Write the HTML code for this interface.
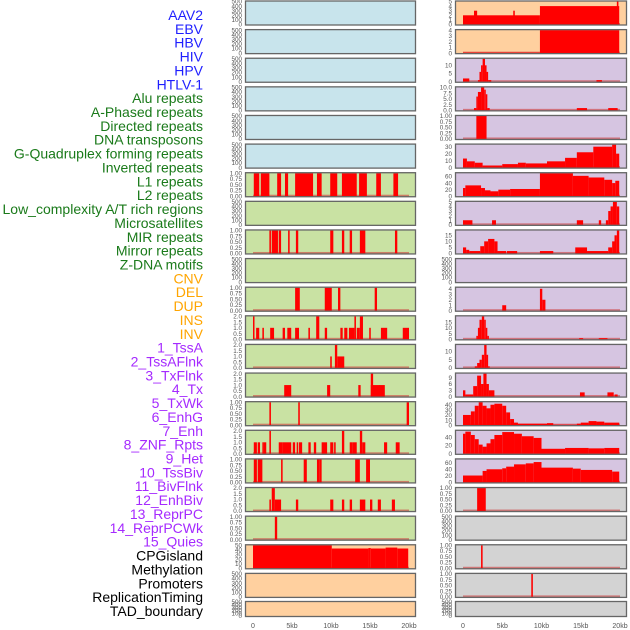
<!DOCTYPE html>
<html><head><meta charset="utf-8">
<style>
html,body{margin:0;padding:0;background:#fff;width:630px;height:630px;overflow:hidden}
svg{display:block;font-family:"Liberation Sans",sans-serif}
</style></head>
<body>
<svg id="chart" width="630" height="630" viewBox="0 0 630 630"></svg>
<script>
const rowLabels=["AAV2","EBV","HBV","HIV","HPV","HTLV-1","Alu repeats","A-Phased repeats","Directed repeats","DNA transposons","G-Quadruplex forming repeats","Inverted repeats","L1 repeats","L2 repeats","Low_complexity A/T rich regions","Microsatellites","MIR repeats","Mirror repeats","Z-DNA motifs","CNV","DEL","DUP","INS","INV","1_TssA","2_TssAFlnk","3_TxFlnk","4_Tx","5_TxWk","6_EnhG","7_Enh","8_ZNF_Rpts","9_Het","10_TssBiv","11_BivFlnk","12_EnhBiv","13_ReprPC","14_ReprPCWk","15_Quies","CPGisland","Methylation","Promoters","ReplicationTiming","TAD_boundary"];
const labelGroups=[6,13,5,15,5];
const groupColors=["#1f1fff","#1a7a1a","#ffa500","#a52aff","#000000"];
const xTicks=[0,5,10,15,20];
const xTickLabels=["0","5kb","10kb","15kb","20kb"];
const leftBg=["#c8e4ec","#c8e4ec","#c8e4ec","#c8e4ec","#c8e4ec","#c8e4ec","#c9e2a3","#c9e2a3","#c9e2a3","#c9e2a3","#c9e2a3","#c9e2a3","#c9e2a3","#c9e2a3","#c9e2a3","#c9e2a3","#c9e2a3","#c9e2a3","#c9e2a3","#ffd09f","#ffd09f","#ffd09f"];
const rightBg=["#ffd09f","#ffd09f","#d6c5e1","#d6c5e1","#d6c5e1","#d6c5e1","#d6c5e1","#d6c5e1","#d6c5e1","#d6c5e1","#d6c5e1","#d6c5e1","#d6c5e1","#d6c5e1","#d6c5e1","#d6c5e1","#d6c5e1","#d3d3d3","#d3d3d3","#d3d3d3","#d3d3d3","#d3d3d3"];
const leftMax=[0,0,0,0,0,0,1,0,1,0,1,2,2,2,1,2,1,2,1,50,0,0];
const rightMax=[5,4,14,10,1,33,70,5,19,0,4.2,20,14,11,45,55,70,1,0,1,1,0];
const leftTicks=[[],[],[],[],[],[],["0.00","0.25","0.50","0.75","1.00"],[],["0.00","0.25","0.50","0.75","1.00"],[],["0.00","0.25","0.50","0.75","1.00"],["0.0","0.5","1.0","1.5","2.0"],["0.0","0.5","1.0","1.5","2.0"],["0.0","0.5","1.0","1.5","2.0"],["0.00","0.25","0.50","0.75","1.00"],["0.0","0.5","1.0","1.5","2.0"],["0.00","0.25","0.50","0.75","1.00"],["0.0","0.5","1.0","1.5","2.0"],["0.00","0.25","0.50","0.75","1.00"],["0","10","20","30","40","50"],[],[]];
const rightTicks=[["0","1","2","3","4","5"],["0","1","2","3","4"],["0","5","10"],["0.0","2.5","5.0","7.5","10.0"],["0.00","0.25","0.50","0.75","1.00"],["0","10","20","30"],["0","20","40","60"],["0","1","2","3","4","5"],["0","5","10","15"],[],["0","1","2","3","4"],["0","5","10","15"],["0","5","10"],["0","3","6","9"],["0","10","20","30","40"],["0","20","40"],["0","20","40","60"],["0.00","0.25","0.50","0.75","1.00"],[],["0.00","0.25","0.50","0.75","1.00"],["0.00","0.25","0.50","0.75","1.00"],[]];
const leftSegs=[[],[],[],[],[],[],
[[0.1,0.8,1],[1.0,2.1,1],[3.1,3.6,1],[4.1,4.5,1],[5.4,7.7,1],[8.2,8.8,1],[9.9,10.8,1],[11.4,13.3,1],[13.6,14.6,1],[15.8,16.4,1],[18,18.6,1]],
[],
[[2.1,2.3,1],[2.4,3.2,1],[3.3,3.6,1],[4.5,4.7,1],[5.5,5.8,1],[9.9,10.3,1],[11.4,11.7,1],[12.4,12.7,1],[13.7,14.4,1],[18.2,18.5,1]],
[],
[[5.4,6.0,1],[9.2,10.1,1],[10.9,11.2,1],[15.6,15.9,1]],
[[0,0.15,2],[0.4,0.8,1],[1.2,1.4,1],[2.2,2.7,1],[3.8,4.1,1],[4.4,4.9,1],[5.4,5.9,1],[7.1,7.3,1],[8.1,8.5,2],[9.2,9.5,1],[11.2,11.5,1],[11.7,12.1,1],[12.3,13.0,1],[13.0,13.2,2],[13.3,13.7,1],[13.7,14.1,2],[14.9,15.1,1],[16.4,17.2,1],[19.2,20,1]],
[[9.9,10.1,1],[10.5,10.8,2],[10.8,11.7,1]],
[[4.0,4.9,1],[9.5,9.9,1],[13.5,13.8,1],[15.1,16.3,1],[15.1,15.4,2],[16.2,16.9,1]],
[[2.1,2.3,1],[5.8,6.0,1],[19.7,20,1]],
[[0.1,0.5,1],[0.6,0.9,1],[1.2,1.4,1],[1.4,1.7,1],[2.1,2.3,2],[3.3,3.8,1],[3.8,4.9,1],[5.1,5.4,1],[5.6,5.8,1],[5.9,6.3,1],[7.1,7.4,1],[7.8,8.1,1],[8.8,9.5,1],[9.9,10.3,1],[10.4,10.6,1],[11.4,11.7,2],[12.4,12.8,1],[12.8,13.3,1],[13.7,14.0,2],[14.0,14.4,1],[16.8,17.2,1],[18.3,18.8,1]],
[[0.1,0.5,1],[0.6,1.2,1],[3.6,3.8,1],[6.5,6.9,1],[8.2,8.5,1],[8.5,8.8,1],[13.1,13.7,1],[14.5,15.0,1]],
[[2.1,2.3,1],[2.4,2.8,2],[2.8,3.6,1],[5.5,5.8,1],[9.9,10.3,1],[11.4,11.7,1],[12.4,12.7,1],[13.7,14.4,1],[15,15.3,1],[16,16.4,1],[17.8,18.2,1]],
[[2.8,3.1,1]],
[[0,10.1,50],[10.1,14.8,43],[14.8,15.1,44],[15.1,17,43],[17,18.5,45],[18.5,19.9,43]],
[],[]];
const rightSegs=[
[[0,9.8,2],[1.4,1.8,3],[6.4,6.6,3],[9.8,19.9,4],[19.6,19.8,5]],
[[0,9.8,0.1],[9.8,19.9,4]],
[[0,0.8,2],[1.9,2.1,1],[2.1,2.3,6],[2.3,2.5,10],[2.5,2.8,14],[2.8,3.0,10],[3.0,3.2,6],[3.2,3.6,1],[17,17.7,1]],
[[1.4,1.7,1],[1.7,1.9,6],[1.9,2.3,8],[2.3,2.7,10],[2.7,2.9,9],[2.9,3.1,7],[3.1,3.4,1],[14.5,15.8,1],[18.5,19.7,1]],
[[1.7,3.0,1]],
[[0,0.5,13],[0.5,1.5,9],[1.5,2.5,7],[2.5,5,3],[5,7,5],[7,8,7],[8,10.7,6],[10.7,13,9],[13,14.5,14],[14.5,16.6,22],[16.6,19,30],[19,19.5,33],[19.5,19.9,20]],
[[0,0.3,25],[0.3,2.3,33],[2.3,2.8,25],[2.8,3.5,18],[3.5,4.5,15],[4.5,6,20],[6,9.8,22],[9.8,14,70],[14,16,62],[16,18,57],[18,19,50],[19,19.4,40],[19.4,19.9,47]],
[[0,1.2,1],[3.7,4.2,1],[14.5,15.3,1],[17.3,17.6,1],[18.2,18.5,1],[18.5,18.8,3],[18.8,19.1,4],[19.1,19.6,5],[19.6,19.9,4]],
[[0,0.4,5],[0.4,0.8,3],[0.8,2.2,2],[2.2,2.7,6],[2.7,3.2,10],[3.2,4.0,12],[4.0,4.4,10],[4.4,5.5,2],[5.6,6.9,2],[9.8,11.5,2],[14.3,15.8,5],[15.8,18.5,2],[18.5,19,5],[19,19.3,10],[19.3,19.6,15],[19.6,19.9,19]],
[],
[[5.0,5.5,1],[9.8,10.1,4],[10.1,10.5,2]],
[[1.7,1.9,3],[1.9,2.1,10],[2.1,2.4,17],[2.4,2.7,20],[2.7,2.9,17],[2.9,3.1,10],[3.1,3.3,3],[14.8,15.3,1],[17.3,18.4,1]],
[[1.5,1.8,1],[1.8,2.1,3],[2.1,2.4,5],[2.4,2.7,8],[2.7,3.0,14],[3.0,3.2,8],[3.2,3.4,1]],
[[0,0.3,3],[0.3,1.3,1],[1.3,1.8,5],[1.8,2.3,10],[2.3,2.6,6],[2.6,3.0,11],[3.0,3.3,6],[3.3,4.0,3],[14.9,15.5,2],[18.4,19.2,2],[19.3,19.7,1]],
[[0,1,20],[1,1.5,27],[1.5,2,38],[2,2.5,45],[2.5,3,38],[3,3.5,33],[3.5,4,40],[4,5,42],[5,5.5,38],[5.5,6,25],[6,6.5,12],[6.5,7,5],[7,10.7,3],[10.7,11.5,4],[11.5,14.5,1],[14.5,15,3],[15,16,5],[16,17,8],[17,18,7],[18,19.9,5]],
[[0,0.3,48],[0.3,1,53],[1,1.5,45],[1.5,2,35],[2,2.5,22],[2.5,3,17],[3,3.5,25],[3.5,4,35],[4,5,45],[5,6.5,52],[6.5,7.5,48],[7.5,9,42],[9,10,38],[10,13,12],[13,16,14],[16,18,13],[18,19.9,14]],
[[0,2.5,21],[2.5,3,35],[3,5,40],[5,5.5,43],[5.5,6.5,48],[6.5,8,55],[8,9,58],[9,10,62],[10,14,45],[14,15,42],[15,19,38],[19,19.9,33]],
[[1.8,2.9,1]],
[],
[[2.3,2.5,1]],
[[8.7,8.9,1]],
[]];

const NS="http://www.w3.org/2000/svg";
const svg=document.getElementById('chart');
function mk(tag,attrs,parent){const e=document.createElementNS(NS,tag);for(const k in attrs)e.setAttribute(k,attrs[k]);(parent||svg).appendChild(e);return e;}
const cols=[{x0:245,x1:416,z:253,s:7.8},{x0:455,x1:627,z:463,s:7.85}];
function xScale(c,kb){return c.z+kb*c.s;}
function rowTop(i){return i<21?0.5+i*28.62:601;}
function rowH(i){return i<21?25:16;}

// labels
let li=0;
labelGroups.forEach((n,g)=>{for(let k=0;k<n;k++){const t=mk('text',{x:203,y:15+li*13.86+5,'text-anchor':'end','font-size':14,fill:groupColors[g]});t.textContent=rowLabels[li];


li++;}});

function drawPanel(ci,i,bg,max,ticks,segs){
  const c=cols[ci],top=rowTop(i),h=rowH(i),bot=top+h;
  const g=mk('g',{});
  
  
  mk('rect',{x:c.x0,y:top,width:c.x1-c.x0,height:h,fill:bg},g);
  const y=v=>bot-1-(v/max)*(h-2);
  let tl=ticks;
  if(max===0){tl=["0","100","200","300","400","500"];}
  const n=tl.length;
  tl.forEach((t,k)=>{const yy=max===0?bot-1-k/(n-1)*(h-2):y(parseFloat(t));
    const tx=mk('text',{x:c.x0-3,y:yy+2.2,'text-anchor':'end','font-size':6.3,fill:'#555'},g);tx.textContent=t;
    
    });
  if(max>0){
    mk('rect',{x:xScale(c,0),y:bot-2.5,width:xScale(c,20)-xScale(c,0),height:2,fill:'rgba(205,60,60,0.6)'},g);
    segs.forEach(s=>{const x1=xScale(c,s[0]),x2=xScale(c,s[1]);const yy=y(s[2]);
      const b=mk('rect',{x:x1,y:yy,width:Math.max(1.5,x2-x1),height:bot-1-yy,fill:'#ff0000'},g);
      
      });
  }
  mk('rect',{x:c.x0+0.5,y:top+0.5,width:c.x1-c.x0-1,height:h-1,fill:'none',stroke:'#666',"stroke-width":1.3},g);
}
for(let i=0;i<22;i++){
  drawPanel(0,i,leftBg[i],leftMax[i],leftTicks[i],leftSegs[i]);
  drawPanel(1,i,rightBg[i],rightMax[i],rightTicks[i],rightSegs[i]);
}
cols.forEach((c,ci)=>{xTicks.forEach((v,k)=>{const t=mk('text',{x:xScale(c,v),y:628,'text-anchor':'middle','font-size':7,fill:'#555'});t.textContent=xTickLabels[k];

});});
</script>
</body></html>
